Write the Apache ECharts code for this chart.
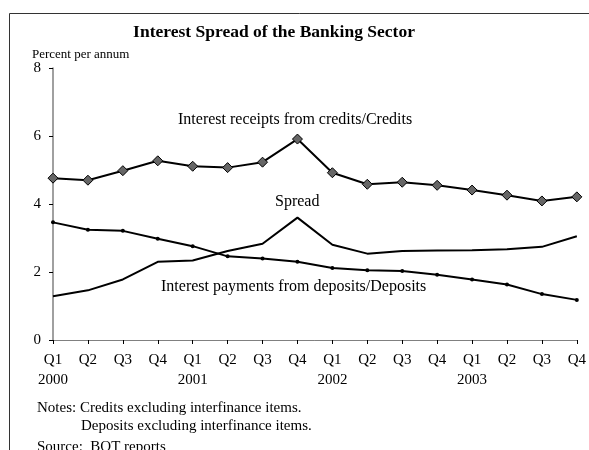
<!DOCTYPE html>
<html><head><meta charset="utf-8">
<script src="https://cdn.jsdelivr.net/npm/echarts@6/dist/echarts.min.js"></script>
<style>html,body{margin:0;padding:0;background:#fff}#c{width:589px;height:450px}</style>
</head><body><div id="c"></div>
<script>
var quarters = ['Q1','Q2','Q3','Q4','Q1','Q2','Q3','Q4','Q1','Q2','Q3','Q4','Q1','Q2','Q3','Q4'];
var years = ['2000','','','','2001','','','','2002','','','','2003','','',''];
var credits = [4.76,4.70,4.98,5.27,5.11,5.07,5.23,5.91,4.92,4.58,4.64,4.55,4.41,4.26,4.09,4.21];
var deposits = [3.46,3.24,3.21,2.98,2.76,2.46,2.40,2.30,2.12,2.05,2.03,1.92,1.78,1.63,1.35,1.18];
var spread = [1.29,1.46,1.78,2.30,2.34,2.62,2.83,3.60,2.80,2.54,2.62,2.63,2.64,2.67,2.74,3.05];
var yTicks = [0,2,4,6,8];

var F = '"Liberation Serif","Times New Roman",serif';
var cats = quarters.map(function(q,i){ return q + '\n' + years[i]; });
var chart = echarts.init(document.getElementById('c'));
chart.setOption({
  animation:false,
  backgroundColor:'#fff',
  grid:{left:53,right:12,top:68,bottom:110,containLabel:false},
  xAxis:{type:'category',data:cats,boundaryGap:false,
    axisLine:{lineStyle:{color:'#808080',width:1}},
    axisTick:{show:true,length:4,lineStyle:{color:'#000'},alignWithLabel:true},
    axisLabel:{fontFamily:F,fontSize:15,color:'#000',interval:0,lineHeight:20,margin:10}},
  yAxis:{type:'value',min:yTicks[0],max:yTicks[yTicks.length-1],interval:2,
    axisLine:{show:true,lineStyle:{color:'#808080',width:1.5}},
    axisTick:{show:true,length:4,lineStyle:{color:'#000'}},
    splitLine:{show:false},
    axisLabel:{fontFamily:F,fontSize:15,color:'#000',margin:12}},
  series:[
    {name:'Credits',type:'line',data:credits,symbol:'diamond',symbolSize:10,
      lineStyle:{color:'#000',width:2},itemStyle:{color:'#666',borderColor:'#000',borderWidth:1}},
    {name:'Deposits',type:'line',data:deposits,symbol:'circle',symbolSize:4,
      lineStyle:{color:'#000',width:2},itemStyle:{color:'#000'}},
    {name:'Spread',type:'line',data:spread,symbol:'none',
      lineStyle:{color:'#000',width:2}}
  ],
  graphic:[
    {type:'line',shape:{x1:9.5,y1:13.5,x2:589,y2:13.5},style:{stroke:'#333',lineWidth:1}},
    {type:'line',shape:{x1:9.5,y1:13.5,x2:9.5,y2:450},style:{stroke:'#333',lineWidth:1}},
    {type:'text',x:274,y:32,style:{text:'Interest Spread of the Banking Sector',font:'bold 17.5px '+F,fill:'#000',textAlign:'center',textVerticalAlign:'middle'}},
    {type:'text',x:32,y:55,style:{text:'Percent per annum',font:'13px '+F,fill:'#000',textVerticalAlign:'middle'}},
    {type:'text',x:178,y:120,style:{text:'Interest receipts from credits/Credits',font:'16px '+F,fill:'#000',textVerticalAlign:'middle'}},
    {type:'text',x:275,y:202,style:{text:'Spread',font:'16px '+F,fill:'#000',textVerticalAlign:'middle'}},
    {type:'text',x:161,y:287,style:{text:'Interest payments from deposits/Deposits',font:'16px '+F,fill:'#000',textVerticalAlign:'middle'}},
    {type:'text',x:37,y:408,style:{text:'Notes: Credits excluding interfinance items.',font:'15px '+F,fill:'#000',textVerticalAlign:'middle'}},
    {type:'text',x:81,y:426,style:{text:'Deposits excluding interfinance items.',font:'15px '+F,fill:'#000',textVerticalAlign:'middle'}},
    {type:'text',x:37,y:447,style:{text:'Source:  BOT reports',font:'15px '+F,fill:'#000',textVerticalAlign:'middle'}}
  ]
});
</script></body></html>
